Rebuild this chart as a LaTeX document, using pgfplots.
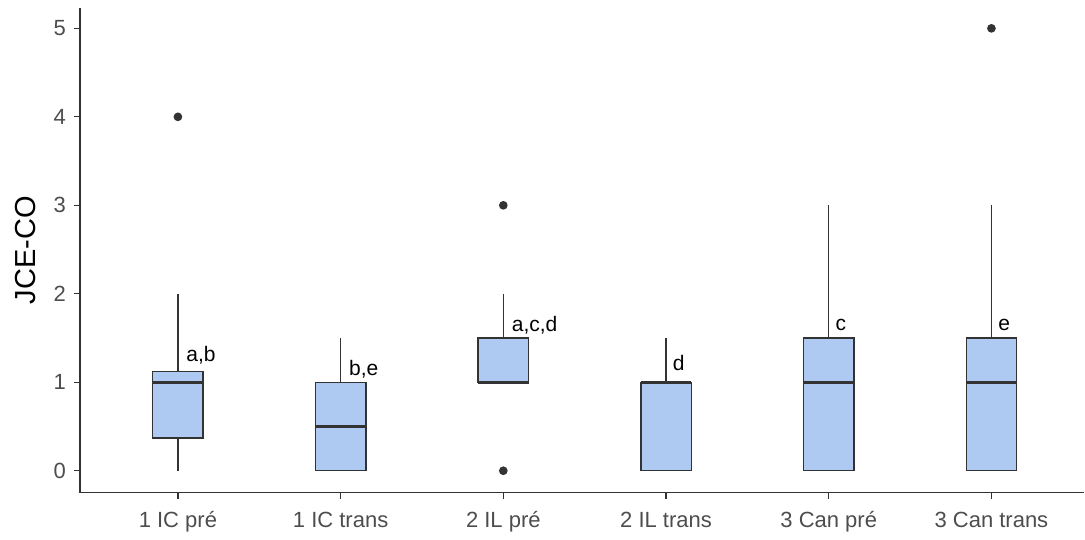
\documentclass[border=0pt]{standalone}
\usepackage{fontspec}
\setmainfont{Liberation Sans}
\usepackage{pgfplots}
\pgfplotsset{compat=1.18}
\usepgfplotslibrary{statistics}
\definecolor{boxfill}{RGB}{174,201,242}
\definecolor{ln}{RGB}{51,51,51}
\definecolor{tk}{RGB}{77,77,77}
\begin{document}
\begin{tikzpicture}
\path (-40pt,-21.5pt) rectangle (502.5pt,246.5pt);
\begin{axis}[
  at={(0,0)}, anchor=south west,
  scale only axis, width=502.5pt, height=242.5pt,
  xmin=0.398, xmax=6.571, ymin=-0.248, ymax=5.23,
  axis x line*=bottom, axis y line*=left,
  axis line style={ln, line width=0.65pt, -},
  xtick={1,2,3,4,5,6},
  xticklabels={1 IC pré,1 IC trans,2 IL pré,2 IL trans,3 Can pré,3 Can trans},
  ytick={0,1,2,3,4,5},
  tick align=outside, major tick length=3pt,
  tick style={ln, line width=0.65pt},
  tick label style={font=\fontsize{11}{13}\selectfont, text=tk},
  xticklabel style={yshift=-3pt},
  yticklabel style={xshift=-0.5pt},
  /pgf/number format/assume math mode=true,
  ylabel={JCE-CO},
  ylabel style={font=\fontsize{14.5}{16}\selectfont, text=black, yshift=2pt},
  every axis plot/.append style={draw=ln, fill=boxfill, line width=0.7pt,
     mark=*, mark size=1.8pt, mark options={fill=ln, draw=ln}},
  boxplot/draw direction=y,
  boxplot/box extend=0.31,
  boxplot/whisker extend=0,
  boxplot/every whisker/.style={line width=0.7pt, draw=ln},
  boxplot/every box/.style={line width=0.7pt, draw=ln, fill=boxfill},
  boxplot/every median/.style={line width=1.5pt, draw=ln},
  clip=false,
]
\addplot[boxplot prepared={draw position=1, lower whisker=0, lower quartile=0.37, median=1, upper quartile=1.12, upper whisker=2}] table[row sep=\\, y index=0] {4\\};
\addplot[boxplot prepared={draw position=2, lower whisker=0, lower quartile=0, median=0.5, upper quartile=1, upper whisker=1.5}] coordinates {};
\addplot[boxplot prepared={draw position=3, lower whisker=1, lower quartile=1, median=1, upper quartile=1.5, upper whisker=2}] table[row sep=\\, y index=0] {3\\ 0\\};
\addplot[boxplot prepared={draw position=4, lower whisker=0, lower quartile=0, median=1, upper quartile=1, upper whisker=1.5}] coordinates {};
\addplot[boxplot prepared={draw position=5, lower whisker=0, lower quartile=0, median=1, upper quartile=1.5, upper whisker=3}] coordinates {};
\addplot[boxplot prepared={draw position=6, lower whisker=0, lower quartile=0, median=1, upper quartile=1.5, upper whisker=3}] table[row sep=\\, y index=0] {5\\};
\begin{scope}[every node/.style={font=\fontsize{10.5}{12}\selectfont, anchor=west, inner sep=0pt}]
\node at (axis cs:1.05,1.31) {a,b};
\node at (axis cs:2.05,1.15) {b,e};
\node at (axis cs:3.05,1.65) {a,c,d};
\node at (axis cs:4.04,1.22) {d};
\node at (axis cs:5.04,1.65) {c};
\node at (axis cs:6.04,1.65) {e};
\end{scope}
\end{axis}
\end{tikzpicture}
\end{document}
